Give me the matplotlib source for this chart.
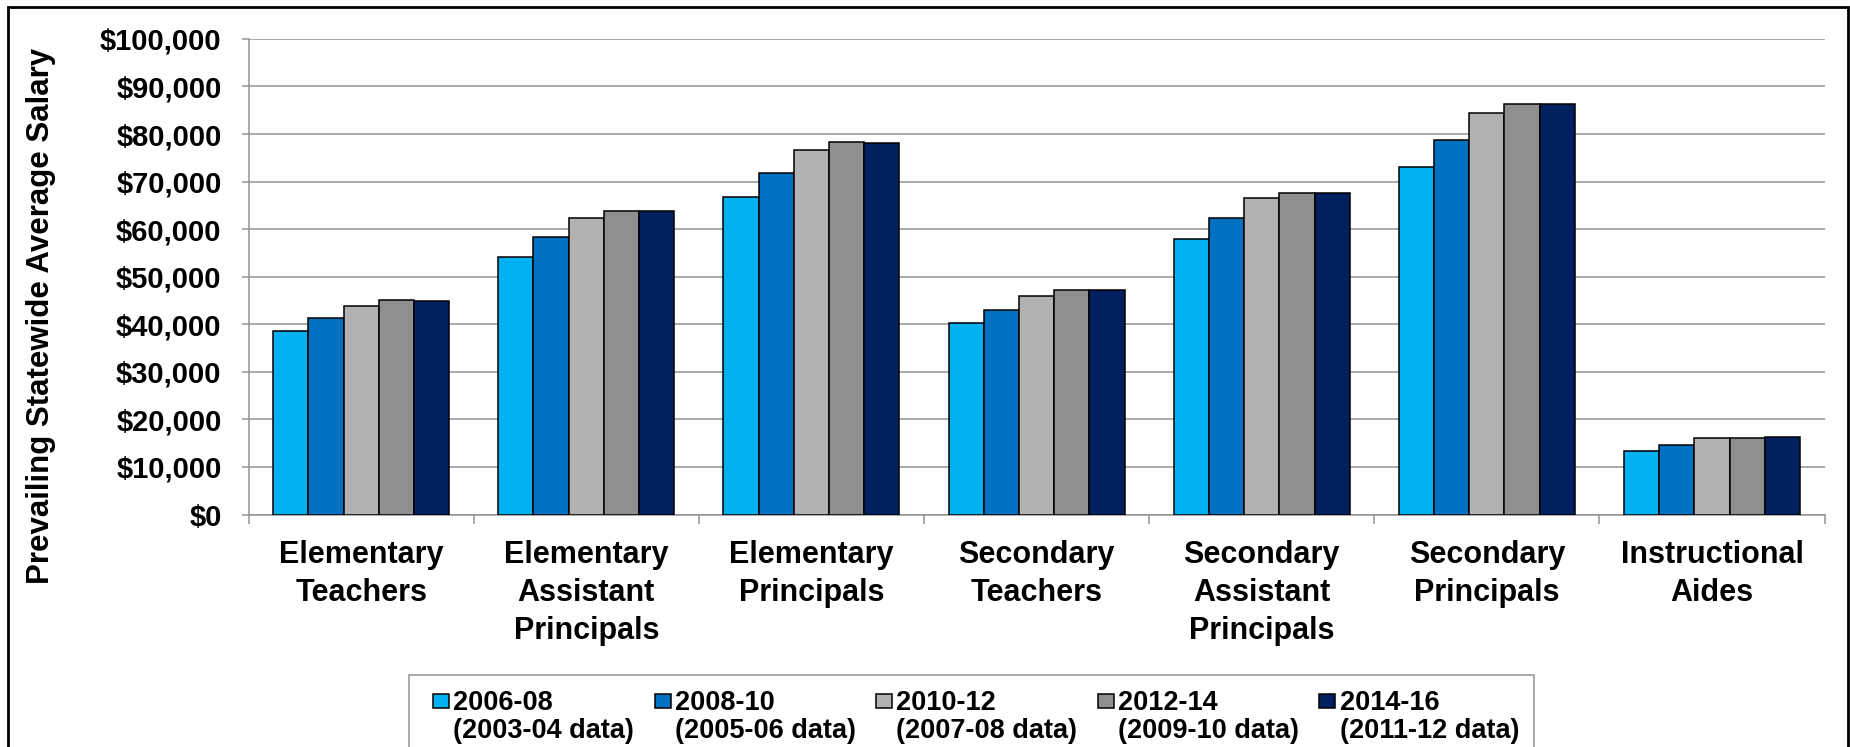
import matplotlib
matplotlib.use("Agg")
import matplotlib.pyplot as plt
import numpy as np

from matplotlib.legend_handler import HandlerPatch
from matplotlib.patches import Patch, Rectangle
from matplotlib.ticker import StrMethodFormatter

plt.rcParams["font.family"] = "Liberation Sans"
plt.rcParams["font.weight"] = "bold"

# Prevailing statewide average salary by position, per biennium
categories = [
    "Elementary\nTeachers",
    "Elementary\nAssistant\nPrincipals",
    "Elementary\nPrincipals",
    "Secondary\nTeachers",
    "Secondary\nAssistant\nPrincipals",
    "Secondary\nPrincipals",
    "Instructional\nAides",
]
periods = [
    "2006-08\n(2003-04 data)",
    "2008-10\n(2005-06 data)",
    "2010-12\n(2007-08 data)",
    "2012-14\n(2009-10 data)",
    "2014-16\n(2011-12 data)",
]
salary_2006_08 = [38500, 54200, 66700, 40200, 57900, 73000, 13400]
salary_2008_10 = [41300, 58400, 71900, 43100, 62300, 78700, 14600]
salary_2010_12 = [43900, 62300, 76600, 46000, 66500, 84500, 16000]
salary_2012_14 = [45100, 63800, 78400, 47200, 67700, 86300, 16100]
salary_2014_16 = [44900, 63800, 78200, 47200, 67500, 86300, 16200]
series = [salary_2006_08, salary_2008_10, salary_2010_12, salary_2012_14, salary_2014_16]

colors = ["#00B0F0", "#0070C0", "#B2B2B2", "#8F8F8F", "#002060"]
grid_gray = "#939393"

W, H = 1850, 747
fig = plt.figure(figsize=(W / 100, H / 100), dpi=100)
ax = fig.add_axes([248.6 / W, 1 - 514.5 / H, 1576 / W, 475.6 / H])

# Grouped bars
x = np.arange(len(categories))
bar_w = 0.1564
for i, (vals, color) in enumerate(zip(series, colors)):
    offset = (i - 2) * bar_w
    ax.bar(x + offset, vals, bar_w, color=color, edgecolor="black",
           linewidth=1.1, zorder=3, label=periods[i])

# Axes styling
ax.set_xlim(-0.5, len(categories) - 0.5)
ax.set_ylim(0, 100000)
ax.set_yticks(np.arange(0, 100001, 10000))
ax.yaxis.set_major_formatter(StrMethodFormatter("${x:,.0f}"))
ax.yaxis.grid(True, color=grid_gray, linewidth=1.1)
ax.set_axisbelow(True)
for side in ["top", "right"]:
    ax.spines[side].set_visible(False)
for side in ["left", "bottom"]:
    ax.spines[side].set_color(grid_gray)
    ax.spines[side].set_linewidth(1.1)

ax.tick_params(axis="y", direction="out", length=5, width=1.1, color=grid_gray,
               pad=14.5, labelsize=21)

# category boundaries get the tick marks, centres get the labels
ax.set_xticks(np.arange(-0.5, len(categories), 1.0))
ax.set_xticklabels([])
ax.set_xticks(x, labels=categories, minor=True)
ax.tick_params(axis="x", which="major", direction="out", length=6.5, width=1.1, color=grid_gray)
ax.tick_params(axis="x", which="minor", length=0, pad=18.5, labelsize=22)
for lbl in ax.get_xticklabels(minor=True):
    lbl.set_linespacing(1.35)

fig.text(41 / W, 1 - 315.6 / H, "Prevailing Statewide Average Salary", rotation=90,
         ha="center", va="center", fontsize=22.5, fontweight="bold")


# Legend squares sit on the first line of each two-line label
def legend_square(legend, orig_handle, xdescent, ydescent, width, height, fontsize):
    sq_w, sq_h = 11.5, 10.0
    return Rectangle((width - xdescent - sq_w, 0.965 * fontsize - sq_h / 2), sq_w, sq_h)


handles = [Patch(facecolor=c, edgecolor="black", linewidth=1.1) for c in colors]
leg = fig.legend(handles, periods, loc="upper left",
                 bbox_to_anchor=(409 / W, 1 - 675 / H), bbox_transform=fig.transFigure,
                 ncol=5, fontsize=19.5, frameon=True, fancybox=False, shadow=False,
                 edgecolor=grid_gray, framealpha=1, borderpad=0.57, borderaxespad=0,
                 handlelength=0.91, handletextpad=0.15, columnspacing=0.44,
                 handler_map={Patch: HandlerPatch(patch_func=legend_square)})
leg.get_frame().set_linewidth(1.1)
for t in leg.get_texts():
    t.set_linespacing(1.08)

# Black frame around the whole chart
border = Rectangle((8.3 / W, -0.2), (1847.7 - 8.3) / W, 1.2 - 7.3 / H,
                   transform=fig.transFigure, fill=False, edgecolor="black",
                   linewidth=2.0, clip_on=False)
fig.add_artist(border)

fig.savefig("out.png", dpi=100)
